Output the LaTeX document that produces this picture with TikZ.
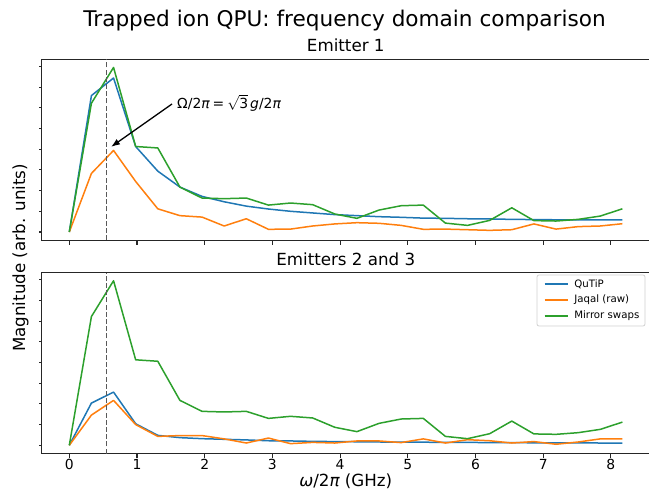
\documentclass[tikz,border=0pt]{standalone}
\usepackage{fontspec}
\setmainfont{DejaVu Sans}
\usetikzlibrary{arrows.meta}

\definecolor{tabblue}{HTML}{1F77B4}
\definecolor{taborange}{HTML}{FF7F0E}
\definecolor{tabgreen}{HTML}{2CA02C}

\tikzset{
  spine/.style={line width=1.1pt,draw=black!85},
  ticklines/.style={line width=1.1pt,draw=black!85},
  qutipline/.style={tabblue,line width=1.5pt,line join=round},
  jaqalline/.style={taborange,line width=1.5pt,line join=round},
  swapline/.style={tabgreen,line width=1.5pt,line join=round},
  resonance/.style={black!65,line width=1.3pt,dash pattern=on 5pt off 2.2pt},
  ticklabel/.style={font=\fontsize{13.9}{16}\selectfont,anchor=base,inner sep=0},
  axlabel/.style={font=\fontsize{16.7}{20}\selectfont,anchor=base,inner sep=0},
  legtext/.style={anchor=west,inner sep=0,font=\fontsize{10.2}{12}\selectfont}
}

%% one trace: first point at the origin, then 25 bins of 0.3268 GHz
\newcommand{\magline}[2]{\draw[#1] (0,0) \foreach \v [count=\k] in #2 {-- ({\k*0.3268},\v)};}
%% one panel frame with its ticks
\newcommand{\panelframe}{%
  \draw[spine] (-0.409,-0.3975) rectangle (8.58,8.3475);
  \foreach \u in {0,...,8} \draw[ticklines] (\u,-0.3975) -- ++(0,-4.9pt);
  \foreach \u in {0,...,8} \draw[ticklines] (-0.409,\u) -- ++(-3pt,0);
  \draw[resonance] (0.552,-0.3975) -- (0.552,8.3475);}

\def\qutipA{6.59,7.44,4.13,2.94,2.17,1.72,1.46,1.25,1.11,1.00,0.92,0.84,0.79,0.74,0.71,0.67,0.66,0.64,0.63,0.61,0.60,0.59,0.59,0.58,0.58}
\def\jaqalA{2.83,3.94,2.44,1.12,0.79,0.72,0.29,0.64,0.13,0.14,0.29,0.39,0.45,0.42,0.32,0.13,0.14,0.11,0.08,0.11,0.39,0.14,0.26,0.29,0.40}
\def\swapvals{6.22,7.95,4.13,4.06,2.17,1.64,1.61,1.64,1.30,1.40,1.32,0.87,0.66,1.06,1.27,1.30,0.43,0.32,0.56,1.17,0.55,0.53,0.61,0.77,1.12}
\def\qutipB{2.04,2.57,1.04,0.48,0.37,0.32,0.29,0.26,0.22,0.21,0.19,0.18,0.17,0.16,0.15,0.15,0.14,0.14,0.13,0.13,0.12,0.12,0.12,0.11,0.11}
\def\jaqalB{1.46,2.17,1.00,0.43,0.47,0.47,0.31,0.11,0.35,0.08,0.14,0.11,0.21,0.21,0.13,0.31,0.11,0.27,0.22,0.11,0.18,0.05,0.16,0.31,0.31}

\begin{document}
\begin{tikzpicture}[x=1pt,y=1pt]
  \useasboundingbox (0,0) rectangle (649,491);
  %% titles and axis labels
  \node[anchor=base,inner sep=0,font=\fontsize{21.6}{26}\selectfont] (suptitle) at (344.5,464) {Trapped ion QPU: frequency domain comparison};
  \node[axlabel] (title1) at (345.8,439) {Emitter 1};
  \node[axlabel] (title2) at (345.8,225) {Emitters 2 and 3};
  \node[axlabel,rotate=90] (ylab) at (25,233) {Magnitude (arb. units)};
  \node[axlabel] (xlab) at (345.8,5) {{\itshape ω}/2{\itshape π} (GHz)};
  %% Emitter 1
  \begin{scope}[xshift=69.3pt,yshift=259pt,x=67.7pt,y=20.7pt]
    \magline{qutipline}{\qutipA}
    \magline{jaqalline}{\jaqalA}
    \magline{swapline}{\swapvals}
    \panelframe
    \coordinate (peak) at (0.616,4.11);
  \end{scope}
  %% Emitters 2 and 3
  \begin{scope}[xshift=69.3pt,yshift=45.7pt,x=67.7pt,y=20.7pt]
    \magline{qutipline}{\qutipB}
    \magline{jaqalline}{\jaqalB}
    \magline{swapline}{\swapvals}
    \panelframe
    \foreach \u in {0,...,8} \node[ticklabel] (xt\u) at (\u,-1.145) {\u};
  \end{scope}
  %% annotation
  \node[anchor=west,inner sep=0,font=\fontsize{13.9}{16}\selectfont] (omegalab) at (177,388)
    {Ω/2{\itshape π}\kern3pt=\kern3pt$\sqrt{\hbox{3}}$\kern2pt{\itshape g}/2{\itshape π}};
  \draw[line width=1.3pt,-{Latex[length=9pt,width=6.5pt]}] ([xshift=-5pt,yshift=-1pt]omegalab.west) -- (peak);
  %% legend
  \node[draw=black!18,line width=0.8pt,fill=white,rounded corners=2pt,minimum width=108pt,minimum height=51pt,inner sep=0] (legend) at (591,190.5) {};
  \coordinate (h1) at ([xshift=8pt,yshift=-9.5pt]legend.north west);
  \coordinate (h2) at ([xshift=8pt,yshift=-25.5pt]legend.north west);
  \coordinate (h3) at ([xshift=8pt,yshift=-41.5pt]legend.north west);
  \draw[qutipline] (h1) -- ++(23pt,0) node[legtext,black,xshift=6pt] (leg1) {QuTiP};
  \draw[jaqalline] (h2) -- ++(23pt,0) node[legtext,black,xshift=6pt] (leg2) {Jaqal (raw)};
  \draw[swapline] (h3) -- ++(23pt,0) node[legtext,black,xshift=6pt] (leg3) {Mirror swaps};
\end{tikzpicture}
\end{document}
